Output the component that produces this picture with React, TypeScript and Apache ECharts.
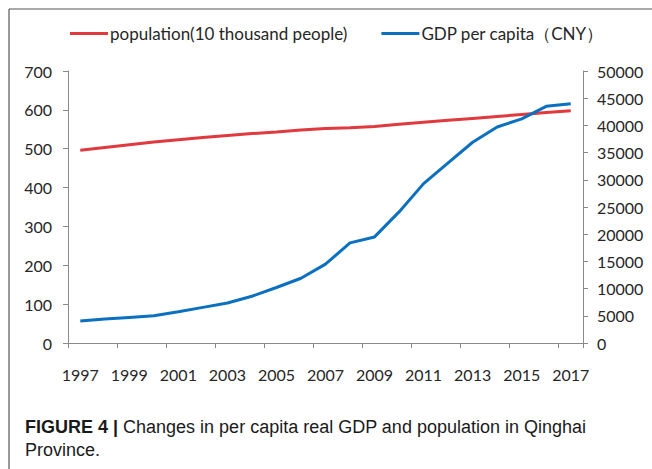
import React, { useEffect, useRef } from "react";
import * as echarts from "echarts";

const years = ["1997", "1998", "1999", "2000", "2001", "2002", "2003", "2004", "2005", "2006", "2007", "2008", "2009", "2010", "2011", "2012", "2013", "2014", "2015", "2016", "2017"];
const population = [496, 503, 510, 517, 523, 529, 534, 539, 543, 548, 552, 554, 557, 563, 568, 573, 578, 583, 588, 593, 598];
const gdpPerCapita = [4050, 4400, 4700, 5000, 5750, 6550, 7350, 8600, 10200, 11900, 14500, 18400, 19500, 24100, 29300, 33100, 36900, 39700, 41200, 43500, 44000];
const popName = "population(10 thousand people)";
const gdpName = "GDP per capita（CNY）";
const caption = "{b|FIGURE 4 |} Changes in per capita real GDP and population in Qinghai\nProvince.";

const RED = "#E0393E";
const BLUE = "#0A70BF";
const AXIS = "#8A8A8A";
const TXT = "#262626";
const FONT = "Lato, 'Noto Sans', sans-serif";
const CAP_FONT = "'Liberation Sans', Arial, sans-serif";

export default function App() {
  const ref = useRef<HTMLDivElement>(null);
  useEffect(() => {
    if (!ref.current) return;
    const chart = echarts.init(ref.current, undefined, { renderer: "svg" });
    chart.setOption({
      animation: false,
      backgroundColor: "#ffffff",
      textStyle: { fontFamily: FONT },
      legend: {
        left: 70,
        top: 25,
        padding: 0,
        itemGap: 34,
        itemWidth: 38,
        itemHeight: 3,
        icon: "rect",
        textStyle: { fontSize: 17, color: TXT, fontFamily: FONT, padding: [0, 0, 0, -3] },
        data: [
          { name: popName, itemStyle: { color: RED } },
          { name: gdpName, itemStyle: { color: BLUE } },
        ],
      },
      grid: { left: 68, right: 69, top: 71, bottom: 126, containLabel: false },
      xAxis: {
        type: "category",
        data: years,
        boundaryGap: true,
        axisLine: { lineStyle: { color: AXIS, width: 1 } },
        axisTick: { show: true, length: 5, lineStyle: { color: AXIS } },
        axisLabel: { interval: 1, color: TXT, fontSize: 16, margin: 23, fontFamily: FONT },
        splitLine: { show: false },
      },
      yAxis: [
        {
          type: "value",
          min: 0,
          max: 700,
          interval: 100,
          position: "left",
          axisLine: { show: true, lineStyle: { color: AXIS } },
          axisTick: { show: true, length: 5, lineStyle: { color: AXIS } },
          axisLabel: { color: TXT, fontSize: 16, margin: 16, fontFamily: FONT },
          splitLine: { show: false },
        },
        {
          type: "value",
          min: 0,
          max: 50000,
          interval: 5000,
          position: "right",
          axisLine: { show: true, lineStyle: { color: AXIS } },
          axisTick: { show: true, length: 5, lineStyle: { color: AXIS } },
          axisLabel: { color: TXT, fontSize: 16, margin: 14, fontFamily: FONT, formatter: (v: number) => String(v) },
          splitLine: { show: false },
        },
      ],
      series: [
        {
          name: popName,
          type: "line",
          yAxisIndex: 0,
          data: population,
          showSymbol: false,
          symbol: "none",
          lineStyle: { color: RED, width: 3 },
          itemStyle: { color: RED },
        },
        {
          name: gdpName,
          type: "line",
          yAxisIndex: 1,
          data: gdpPerCapita,
          showSymbol: false,
          symbol: "none",
          lineStyle: { color: BLUE, width: 3 },
          itemStyle: { color: BLUE },
        },
      ],
      graphic: [
        { type: "line", shape: { x1: 9, y1: 9, x2: 652, y2: 9 }, style: { stroke: "#555555", lineWidth: 1.2 } },
        { type: "line", shape: { x1: 9, y1: 9, x2: 9, y2: 469 }, style: { stroke: "#555555", lineWidth: 1.2 } },
        {
          type: "text",
          x: 25,
          y: 415,
          style: {
            text: caption,
            fontSize: 18,
            lineHeight: 23,
            fill: "#1a1a1a",
            fontFamily: CAP_FONT,
            textVerticalAlign: "top",
            rich: {
              b: { fontWeight: "bold", fontSize: 18, fill: "#1a1a1a", fontFamily: CAP_FONT },
            },
          },
        },
      ],
    });
    return () => chart.dispose();
  }, []);
  return <div ref={ref} style={{ position: "fixed", left: 0, top: 0, width: 652, height: 469 }} />;
}
